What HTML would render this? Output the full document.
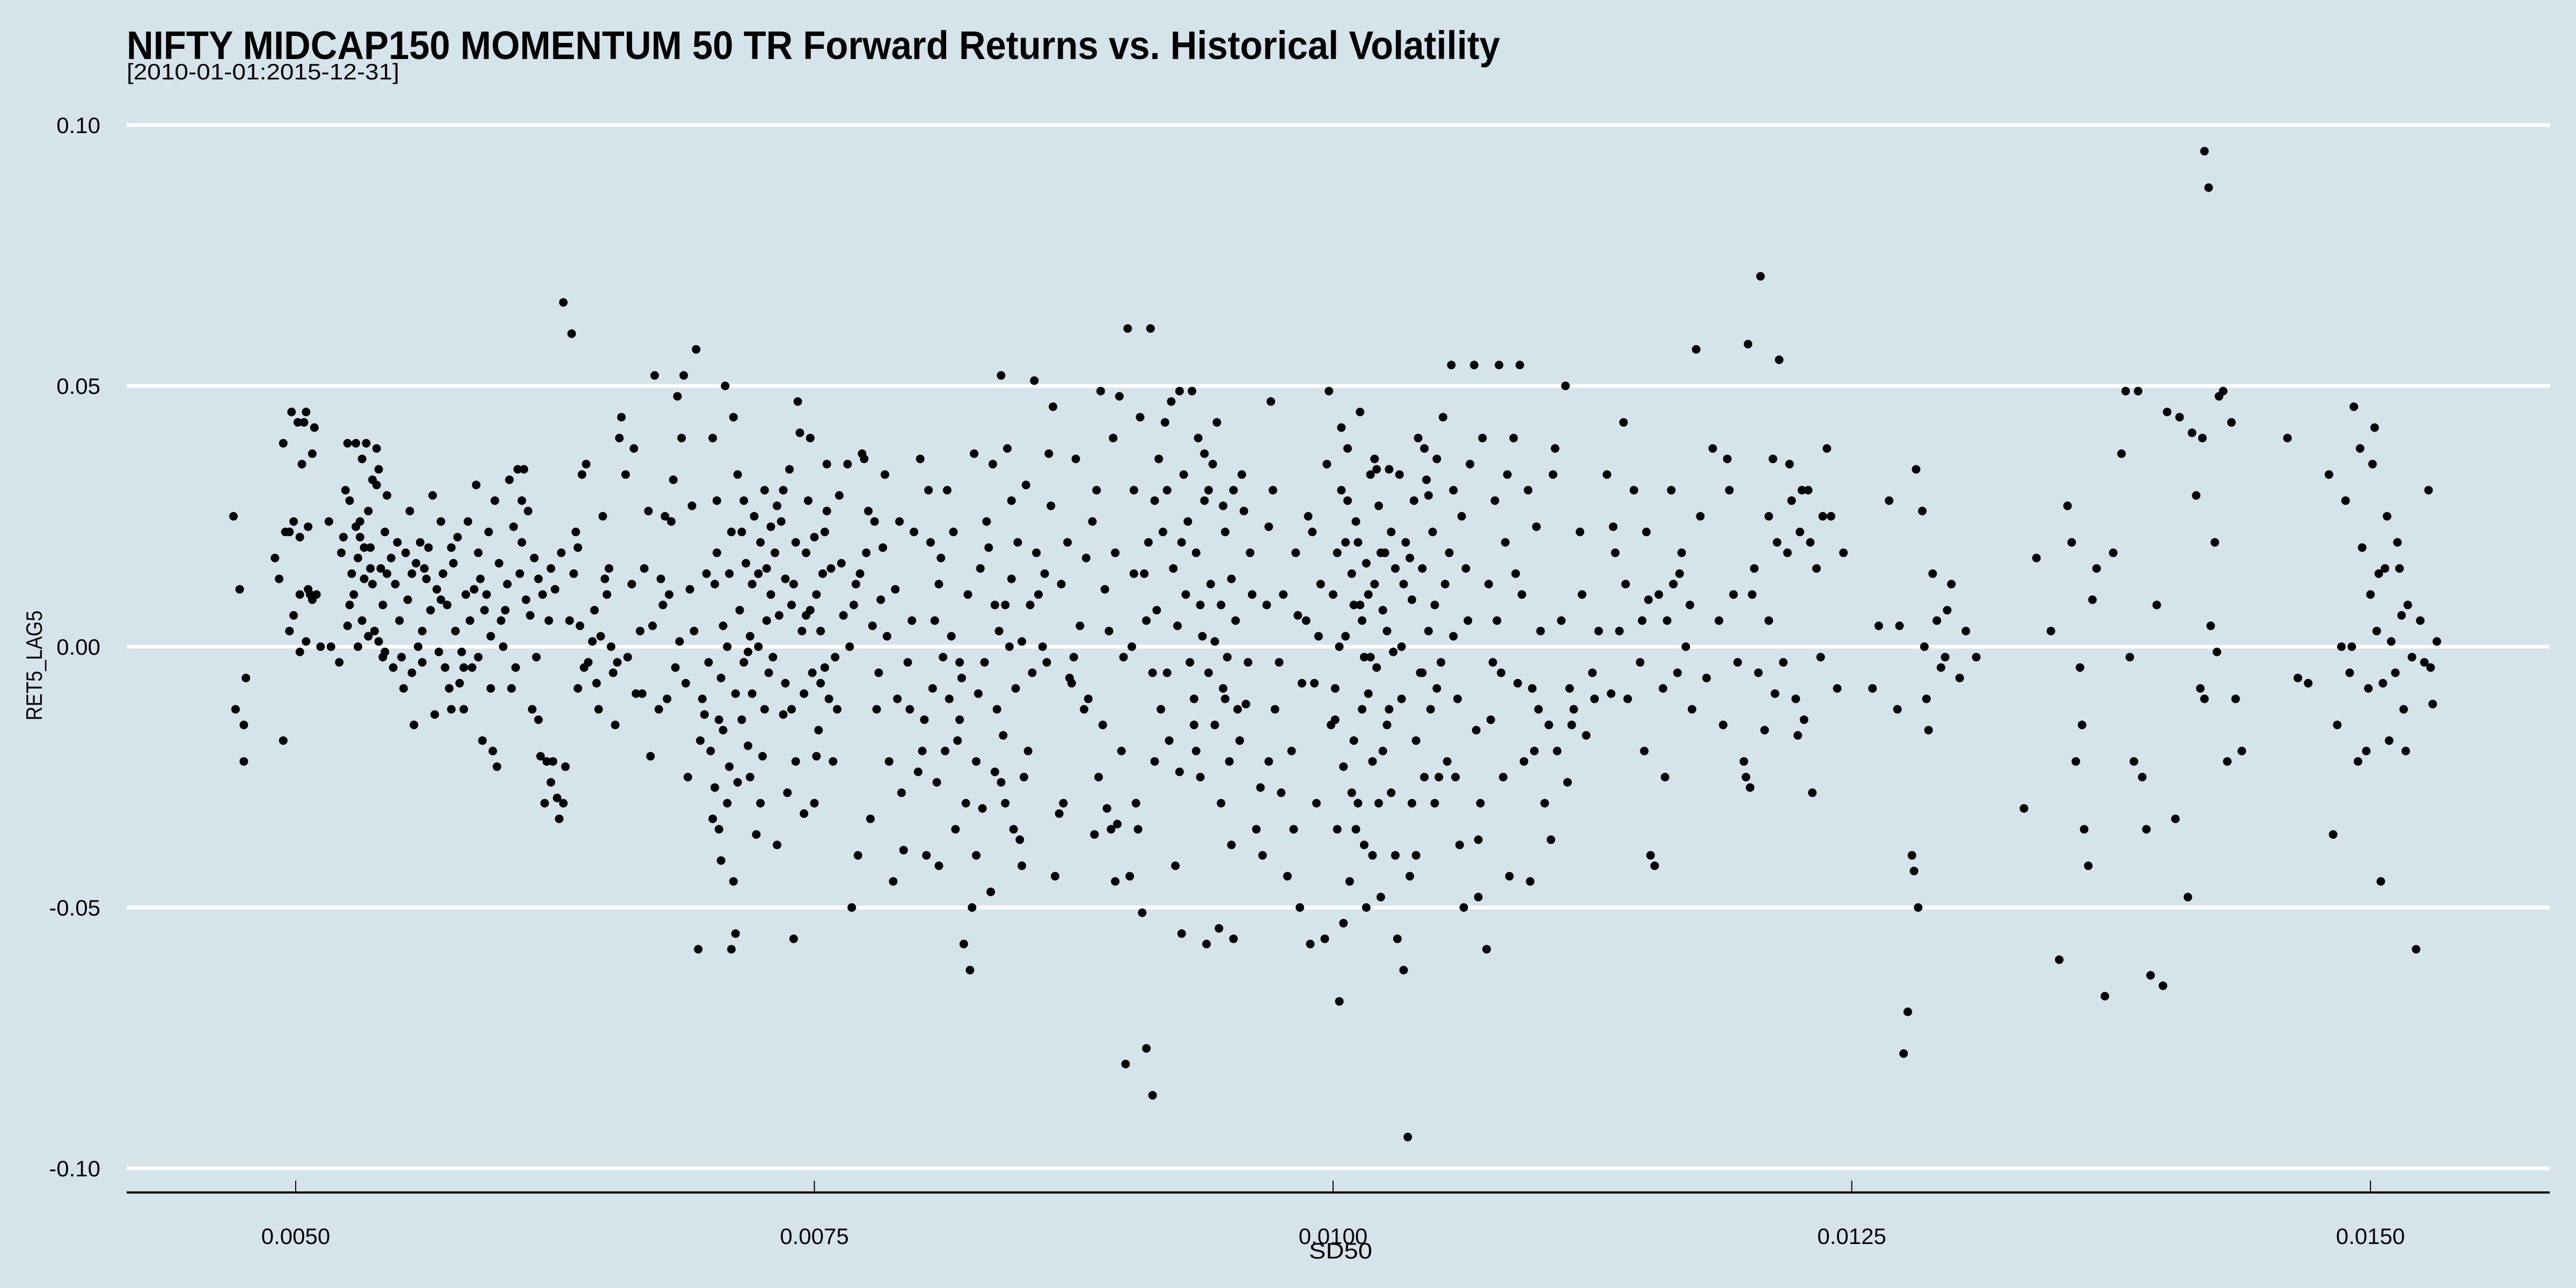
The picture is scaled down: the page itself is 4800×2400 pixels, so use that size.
<!DOCTYPE html>
<html><head><meta charset="utf-8"><style>
html,body{margin:0;padding:0;background:#d5e4eb;}
svg{display:block;font-family:"Liberation Sans",sans-serif;}
</style></head><body>
<svg id="chart" width="4800" height="2400" viewBox="0 0 4800 2400" xmlns="http://www.w3.org/2000/svg">
<rect x="0" y="0" width="4800" height="2400" fill="#d5e4eb"/>
<text x="236" y="110" font-size="74" font-weight="bold" textLength="2559" lengthAdjust="spacingAndGlyphs">NIFTY MIDCAP150 MOMENTUM 50 TR Forward Returns vs. Historical Volatility</text>
<text x="236" y="148" font-size="42" textLength="508" lengthAdjust="spacingAndGlyphs">[2010-01-01:2015-12-31]</text>
<g id="grid"></g>
<g id="axes"></g>
<g id="pts"></g>
<text x="2498" y="2345" font-size="42" text-anchor="middle" textLength="118" lengthAdjust="spacingAndGlyphs">SD50</text>
<text transform="translate(78,1240) rotate(-90)" font-size="42" text-anchor="middle" textLength="205" lengthAdjust="spacingAndGlyphs">RET5_LAG5</text>
</svg>
<script>
// SD50 values in units of 1e-4, RET5_LAG5 values in units of 1e-3
const sd50x1e4 = [47.0,47.1,47.3,47.5,47.5,47.6,
49.0,49.2,49.4,49.5,49.7,49.8,49.9,50.1,50.2,50.2,50.3,50.4,50.5,50.6,50.6,50.7,50.8,50.8,50.9,51.0,51.2,49.4,49.7,49.9,50.2,50.5,51.6,51.7,
52.2,52.3,52.4,52.5,52.6,52.7,52.8,52.9,53.0,53.1,53.2,53.3,53.4,53.5,53.6,53.7,53.8,53.9,54.0,54.1,54.2,54.3,54.4,52.1,52.6,53.0,53.5,54.0,53.7,53.2,52.9,54.4,53.3,53.6,52.5,54.2,
54.6,54.8,55.0,55.1,55.3,55.4,55.6,55.7,55.9,56.1,56.3,56.4,56.5,56.7,56.8,54.7,55.2,55.8,56.0,56.6,55.5,56.9,54.9,56.2,
57.0,57.1,57.3,57.4,57.5,57.7,57.8,58.0,58.1,58.2,58.4,58.5,58.7,58.8,58.9,59.1,59.2,59.4,59.5,59.7,59.8,59.9,57.6,58.3,59.0,59.3,57.9,58.6,59.6,57.2,
60.0,60.2,60.3,60.5,60.6,60.8,60.9,61.0,61.2,61.3,61.5,61.6,61.7,61.8,62.0,62.1,62.3,62.4,62.6,62.7,62.9,62.3,61.9,62.5,60.7,61.4,62.2,62.8,63.0,60.4,61.1,62.9,63.3,
63.2,63.4,63.5,63.6,63.8,64.0,64.1,64.3,64.5,64.6,64.8,65.0,65.1,65.3,65.4,65.6,65.7,65.9,66.0,66.2,66.3,63.7,64.4,65.2,66.4,64.9,63.9,
66.6,66.8,67.0,67.1,67.3,67.5,67.6,67.8,68.0,68.1,68.3,68.4,68.6,68.7,68.9,69.0,69.1,69.3,69.5,69.6,69.8,69.9,69.4,67.2,68.5,69.2,67.9,68.8,
70.0,70.1,70.2,70.3,70.4,70.5,70.6,70.7,70.8,70.9,71.0,71.1,71.2,71.3,71.4,71.5,71.6,71.7,71.8,71.9,72.0,72.1,72.2,72.3,72.4,72.5,72.6,72.7,72.8,72.9,70.1,70.5,71.0,70.4,71.3,71.8,72.4,72.9,70.8,71.6,72.0,72.6,71.1,70.2,70.9,
73.0,73.1,73.2,73.3,73.4,73.5,73.6,73.7,73.8,73.9,74.0,74.1,74.2,74.3,74.4,74.5,74.6,74.7,74.8,74.9,75.0,75.1,75.2,75.3,75.4,75.5,75.6,75.7,75.8,75.9,76.0,76.2,76.4,73.5,74.0,74.5,75.0,75.5,76.1,73.9,74.8,75.3,
76.6,76.8,76.9,77.0,77.1,77.3,77.4,77.5,77.7,77.9,78.0,78.1,78.3,78.5,78.6,78.8,78.9,79.1,79.3,79.5,79.6,79.8,80.0,76.7,77.2,77.8,78.4,79.0,79.7,
80.1,80.3,80.4,80.5,80.7,80.8,81.0,81.1,81.2,81.3,81.5,81.6,81.7,81.8,82.0,82.1,82.2,82.3,82.4,82.5,82.6,82.7,82.8,82.9,83.0,80.9,81.4,82.0,82.8,80.6,83.1,
83.2,83.4,83.5,83.6,83.7,83.8,83.9,84.0,84.1,84.2,84.3,84.4,84.5,84.6,84.7,84.8,84.9,85.0,85.2,85.3,85.4,85.5,85.7,85.8,86.0,86.2,86.3,86.5,84.0,85.0,85.6,83.7,86.1,84.5,
86.6,86.8,86.9,87.0,87.2,87.4,87.6,87.8,88.0,88.2,88.4,88.6,88.7,88.8,88.9,89.0,89.1,89.3,89.4,89.5,89.6,89.7,89.8,89.9,87.3,88.1,89.2,
90.0,90.1,90.3,90.4,90.5,90.7,90.8,91.0,91.1,91.2,91.3,91.4,91.5,91.6,91.7,91.9,92.0,92.2,92.3,92.4,92.5,92.6,92.7,92.8,92.9,90.2,90.6,91.0,91.8,92.1,92.6,90.9,91.4,
93.0,93.1,93.2,93.3,93.4,93.5,93.6,93.7,93.8,93.9,94.0,94.1,94.2,94.3,94.4,94.5,94.6,94.7,94.8,94.9,95.0,95.1,95.2,95.3,95.4,95.5,95.7,95.9,96.1,96.3,96.5,93.4,94.0,94.6,95.2,95.8,93.6,94.8,
96.6,96.8,97.0,97.2,97.4,97.6,97.8,98.0,98.2,98.4,98.5,98.7,98.9,99.0,99.2,99.4,99.6,99.8,99.9,97.1,98.1,99.3,96.9,98.8,
100.0,100.1,100.2,100.3,100.4,100.5,100.6,100.7,100.8,100.9,101.0,101.1,101.2,101.3,101.4,101.5,101.6,101.7,101.8,101.9,102.0,102.1,102.2,102.3,102.4,102.5,102.6,102.7,102.8,102.9,103.0,100.2,100.6,101.0,101.4,101.8,102.2,102.6,103.0,100.5,101.2,102.0,100.9,101.6,102.4,100.3,101.7,102.8,
103.1,103.2,103.3,103.4,103.5,103.6,103.7,103.8,103.9,104.0,104.1,104.2,104.3,104.4,104.5,104.6,104.7,104.8,104.9,105.0,105.2,105.4,105.5,105.7,105.8,106.0,106.2,106.3,106.5,103.8,104.4,105.0,105.6,106.1,103.4,104.9,105.9,
106.6,106.8,107.0,107.2,107.4,107.5,107.6,107.8,108.0,108.1,108.3,108.5,108.7,108.9,109.0,109.2,109.4,109.6,109.8,110.0,107.0,108.2,109.5,107.9,108.8,106.9,109.9,
110.2,110.4,110.6,110.8,111.0,111.2,111.4,111.6,111.9,112.2,112.5,112.8,110.5,111.3,112.0,112.6,
113.2,113.4,113.6,113.8,114.0,114.2,114.5,114.8,115.1,115.3,115.5,115.7,115.9,116.1,116.3,116.6,116.8,117.0,117.3,117.5,117.7,118.0,114.1,115.0,116.0,117.2,114.9,116.4,
118.3,118.6,118.8,119.1,119.3,119.5,119.8,120.0,120.1,120.3,120.5,120.6,120.8,121.0,121.2,121.4,121.5,121.7,121.9,122.1,122.3,122.5,122.7,122.9,123.1,123.3,123.5,123.8,124.0,124.3,124.6,120.2,121.0,122.0,123.0,119.9,122.4,
126.0,126.3,126.8,127.2,127.5,127.7,127.9,128.0,128.2,128.4,128.5,128.7,128.9,129.1,129.3,129.5,129.8,130.2,130.5,131.0,127.3,128.1,128.6,129.6,133.3,133.9,134.6,135.0,
135.4,135.6,135.8,136.0,136.1,136.2,136.4,136.6,136.8,137.2,137.6,138.0,138.2,138.4,138.6,138.8,139.0,139.2,139.4,139.7,140.0,140.2,140.6,140.8,141.2,141.4,141.6,141.8,142.0,142.2,142.3,142.5,142.7,142.9,143.1,143.3,143.5,143.8,142.0,141.9,142.6,
146.0,146.5,147.0,148.0,148.2,148.4,148.6,148.8,149.0,149.2,149.4,149.6,149.8,150.0,150.2,150.4,150.6,150.8,151.0,151.2,151.4,151.6,151.8,152.0,152.2,152.4,152.6,152.8,153.0,153.2,149.5,150.1,150.5,150.9,151.3,150.3,149.9,151.7,152.9,149.1,150.7,151.5,
53.1,53.9,54.3,55.6,56.1,57.0,57.5,58.1,58.8,59.4,
60.1,60.9,61.7,63.6,64.7,65.5,66.7,67.7,68.2,69.7,
70.3,70.6,71.2,71.5,71.9,72.3,72.7,73.2,73.6,74.1,
74.6,75.1,75.6,76.3,77.6,78.2,79.2,80.2,81.0,81.9,
83.3,84.2,85.1,86.4,87.5,88.5,89.5,90.4,91.3,92.0,
92.7,93.3,93.8,94.3,94.7,95.1,95.6,96.0,96.9,97.5,
98.3,99.1,99.7,100.1,100.4,100.7,101.1,101.3,101.5,101.9,
102.1,102.3,102.7,103.3,103.7,104.0,104.3,104.6,105.1,105.3,
105.8,106.4,107.1,107.7,108.4,109.1,109.7,110.7,111.5,113.5,
115.2,116.7,119.0,121.3,122.6,123.6];
const ret5x1e3 = [25,-12,11,-15,-22,-6,
17,13,39,22,22,45,24,43,10,21,35,43,45,23,11,10,9,37,42,10,0,-18,3,6,-1,1,24,0,
18,21,30,39,28,14,10,39,17,21,5,13,39,26,19,12,3,38,34,15,8,22,14,-3,8,0,2,1,32,36,23,29,19,15,4,-2,
17,12,5,-2,18,9,-5,-15,0,-3,13,19,7,-13,11,-4,-8,16,20,29,26,-1,20,15,
24,14,8,-8,-12,3,21,-1,-12,10,5,-4,31,-2,13,7,10,-8,-20,-23,16,5,16,24,-18,22,-7,11,28,-4,
0,12,32,23,-4,14,20,34,26,6,17,-2,-14,-21,-30,-22,-26,-22,-29,-33,-30,15,10,11,34,-12,5,18,-23,-8,9,66,60,
5,14,22,-8,33,35,-3,1,-7,-12,25,10,15,-5,-15,40,44,33,-2,12,38,4,7,0,-9,13,-4,
3,15,26,-21,52,-12,13,25,10,24,-4,48,40,52,-25,11,27,57,-18,-10,14,-3,-58,4,1,3,-10,-7,
-20,-33,12,18,-35,-6,4,50,-30,-23,22,44,-55,-26,7,-14,28,16,-1,2,-9,25,-36,14,20,-21,30,5,-5,10,40,-41,-58,-14,33,-19,-30,23,0,-3,12,-12,-45,-27,14,
-2,18,-38,6,24,-13,13,-28,34,8,-56,-22,47,41,3,-9,18,28,40,-5,21,10,-16,3,14,-4,26,-10,15,-22,-2,29,6,30,12,-32,-30,22,-12,-12,7,-7,
35,-50,8,12,-40,37,36,18,-33,24,-12,-5,19,2,-22,-45,11,24,-39,-3,-12,22,-24,0,14,4,33,-10,5,
36,-14,-40,30,-8,5,-42,17,-2,-20,-10,2,22,-35,-14,-6,-57,-30,10,-62,-50,37,-22,-9,15,-26,30,-3,-40,20,-31,
-3,19,-47,35,-24,-12,3,52,-17,-30,38,0,13,-35,-8,20,-37,1,31,-20,8,-5,18,10,0,-3,37,46,-26,-42,51,8,14,28,
-44,-32,12,-30,20,-7,36,4,-12,-10,24,30,-25,49,-15,11,-31,-35,40,-45,-34,48,-20,-2,-6,17,3,
-80,61,0,30,-30,44,-51,-77,20,61,-86,28,7,36,-12,43,-5,47,15,-42,4,-24,-55,33,10,-44,-35,5,22,-18,49,14,-22,
24,-3,49,-10,18,40,-25,2,28,-57,-5,12,35,-15,43,-54,8,-8,22,-2,-22,13,-56,5,-12,-18,26,-3,10,-35,-27,-20,30,-30,30,-11,8,-10,
-40,8,47,-12,-3,10,-44,-20,18,-50,-7,5,-57,22,-30,12,-56,49,-15,30,-35,2,-22,25,
10,-8,18,-68,30,-23,2,38,-45,14,-18,24,-30,45,5,-38,16,-9,33,-22,12,-4,27,-48,7,18,-15,34,-28,-1,15,-35,20,8,-12,-2,-30,3,-40,-53,20,36,-28,-50,-20,0,10,22,
-56,33,-10,-62,20,-94,-44,9,28,-18,40,-5,15,-25,32,3,-12,22,-30,36,-3,12,-22,54,30,-10,25,-50,5,-30,38,-8,18,-38,12,8,-25,
35,54,-48,40,-58,12,-14,28,54,-5,20,-44,40,-7,54,-22,30,-8,23,3,-37,-25,-45,5,14,-16,-12,
-30,-15,33,-20,5,50,-8,-12,22,-17,-5,3,-37,-26,10,-10,
33,-9,18,3,43,-10,30,-3,22,-40,-42,10,-8,5,30,-5,18,0,-12,57,25,-6,12,-20,-25,8,5,12,
38,5,-15,30,10,-3,-22,58,-27,15,-5,71,-16,25,36,20,55,-3,18,28,-10,22,-14,30,-28,15,-2,38,25,-8,18,10,5,35,20,-25,-17,
-8,4,28,-12,-78,-70,-40,-43,-50,26,0,-16,14,5,-4,-2,12,-6,3,-2,4,34,-10,7,-31,17,3,-60,
27,20,-22,-4,-15,-35,-42,9,15,-67,18,37,49,-2,-22,49,-25,-35,-63,8,-65,45,-33,44,-48,41,29,-8,95,88,4,20,48,49,-22,43,-10,-20,-10,40,-1,
40,-6,-7,33,-36,-15,0,28,-5,46,-22,19,-20,10,42,14,-7,25,1,-5,15,-12,8,-2,-58,5,-3,30,-11,1,38,35,-45,-18,20,3,-8,-20,-4,0,15,6,
24,31,-1,14,3,9,19,-4,18,2,
7,28,13,19,2,-3,-9,8,32,-13,
28,-16,-9,22,-25,0,15,27,-7,20,
6,-21,35,16,26,9,-28,-20,12,-18,
24,8,-25,27,-2,-36,18,14,-5,30,
20,-15,37,1,27,-38,33,18,23,-28,
6,-7,35,-14,42,28,-35,8,-2,-40,
34,18,-12,0,17,-40,-5,29,-25,44,
2,15,-30,-3,33,10,-20,38,-15,23,
9,14,36,-9,30,25];
const yTickValues = [0.10, 0.05, 0.00, -0.05, -0.10];
const yTickLabels = ["0.10", "0.05", "0.00", "-0.05", "-0.10"];
const xTickValues = [0.0050, 0.0075, 0.0100, 0.0125, 0.0150];
const xTickLabels = ["0.0050", "0.0075", "0.0100", "0.0125", "0.0150"];

const NS = "http://www.w3.org/2000/svg";
const PL = 236, PR = 4751, AXY = 2222;
function xScale(v){ return 551 + (v - 0.005) * 386600; }
function yScale(v){ return 1205 - v * 9720; }

const grid = document.getElementById('grid');
const axes = document.getElementById('axes');
yTickValues.forEach((v, i) => {
  const y = yScale(v);
  const ln = document.createElementNS(NS, 'line');
  ln.setAttribute('x1', PL); ln.setAttribute('x2', PR);
  ln.setAttribute('y1', y); ln.setAttribute('y2', y);
  ln.setAttribute('stroke', '#ffffff'); ln.setAttribute('stroke-width', '7');
  
  
  grid.appendChild(ln);
  const t = document.createElementNS(NS, 'text');
  t.setAttribute('x', 187); t.setAttribute('y', y + 15);
  t.setAttribute('font-size', '42'); t.setAttribute('text-anchor', 'end');
  t.textContent = yTickLabels[i];
  
  
  axes.appendChild(t);
});
const axl = document.createElementNS(NS, 'line');
axl.setAttribute('x1', PL); axl.setAttribute('x2', PR);
axl.setAttribute('y1', AXY); axl.setAttribute('y2', AXY);
axl.setAttribute('stroke', '#000'); axl.setAttribute('stroke-width', '4');


axes.appendChild(axl);
xTickValues.forEach((v, i) => {
  const x = xScale(v);
  const tk = document.createElementNS(NS, 'line');
  tk.setAttribute('x1', x); tk.setAttribute('x2', x);
  tk.setAttribute('y1', 2200); tk.setAttribute('y2', AXY);
  tk.setAttribute('stroke', '#000'); tk.setAttribute('stroke-width', '2');
  
  
  axes.appendChild(tk);
  const t = document.createElementNS(NS, 'text');
  t.setAttribute('x', x); t.setAttribute('y', 2318);
  t.setAttribute('font-size', '42'); t.setAttribute('text-anchor', 'middle');
  t.textContent = xTickLabels[i];
  
  
  axes.appendChild(t);
});
const pts = document.getElementById('pts');
const n = Math.min(sd50x1e4.length, ret5x1e3.length);
for (let i = 0; i < n; i++) {
  const c = document.createElementNS(NS, 'circle');
  c.setAttribute('cx', xScale(sd50x1e4[i] / 10000));
  c.setAttribute('cy', yScale(ret5x1e3[i] / 1000));
  c.setAttribute('r', '8');
  c.setAttribute('fill', '#000');
  
  
  pts.appendChild(c);
}
</script>
</body></html>
